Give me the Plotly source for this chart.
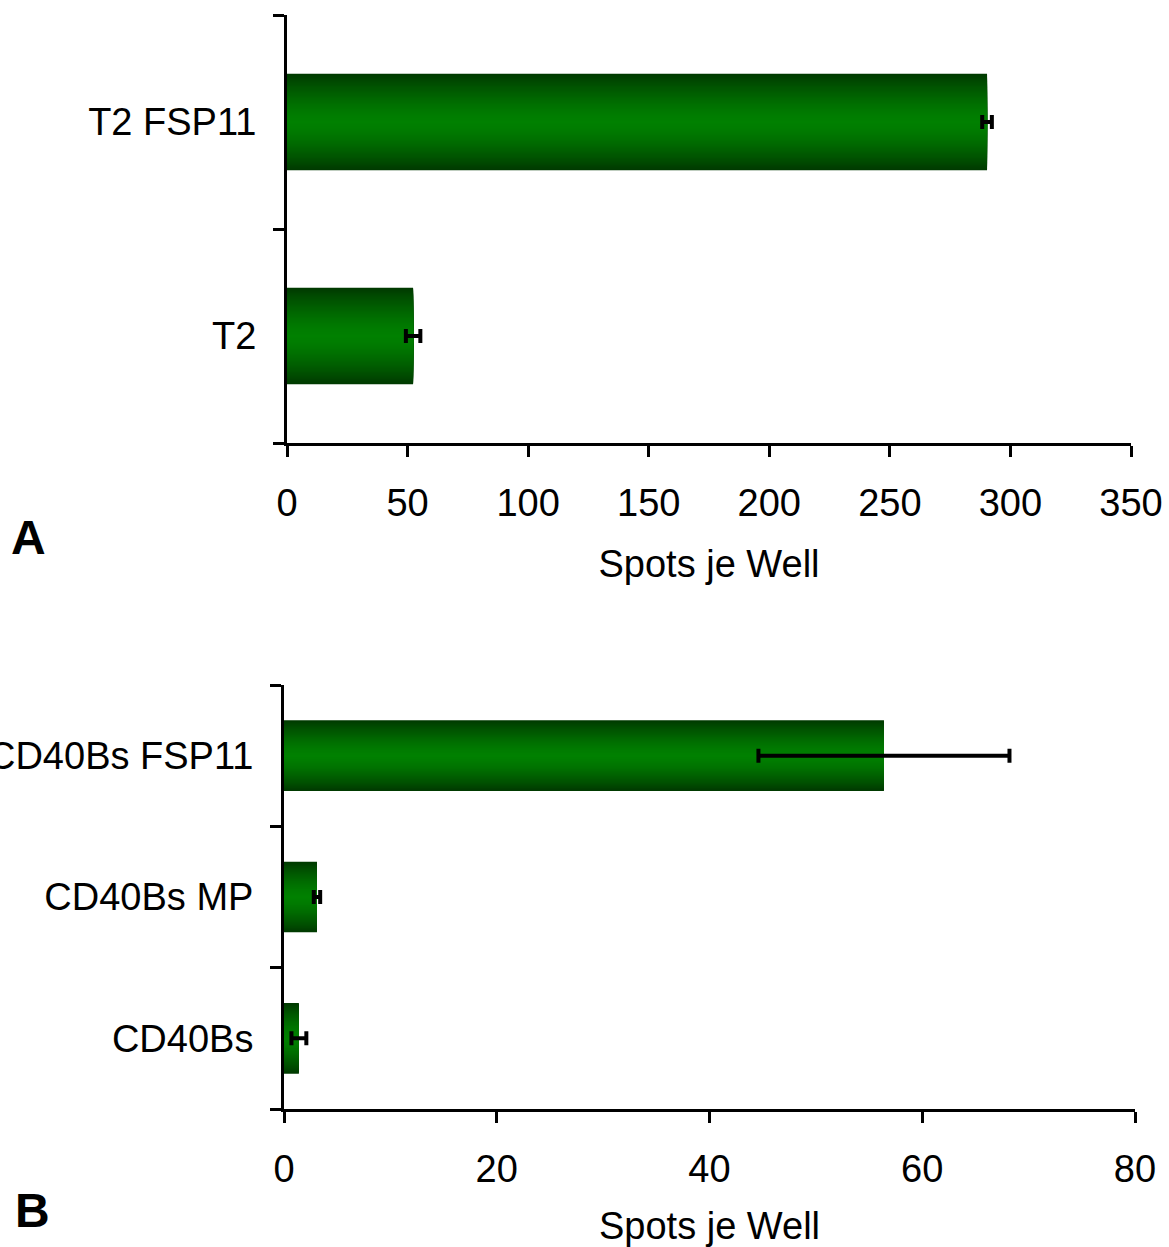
import plotly.graph_objects as go

# ---- data ----
cats_a = ["T2", "T2 FSP11"]
vals_a = [52.3, 290.3]
err_a = [3.0, 2.0]

cats_b = ["CD40Bs", "CD40Bs MP", "CD40Bs FSP11"]
vals_b = [1.4, 3.1, 56.4]
err_b = [0.7, 0.3, 11.8]

xticks_a = [0, 50, 100, 150, 200, 250, 300, 350]
xticks_b = [0, 20, 40, 60, 80]

FONT = "Arial, Liberation Sans, sans-serif"
W, H = 1169, 1247
FS = 38

fig = go.Figure()

N = 40


def shade(d):
    g = 128 - 70 * (d ** 1.5)
    return f"rgb(0,{int(round(g))},0)"


def add_bars(cats, vals, width, xa, ya):
    for k in range(N):
        frac = 1 - k / N
        fig.add_trace(go.Bar(
            y=cats, x=vals, orientation="h",
            width=width * frac,
            marker=dict(color=shade(frac), line=dict(width=0)),
            xaxis=xa, yaxis=ya, showlegend=False, hoverinfo="skip",
        ))


def add_err(cats, vals, errs, xa, ya):
    fig.add_trace(go.Scatter(
        y=cats, x=vals, mode="markers",
        marker=dict(size=1, color="rgba(0,0,0,0)"),
        error_x=dict(type="data", array=errs, color="black", thickness=4, width=7),
        xaxis=xa, yaxis=ya, showlegend=False, hoverinfo="skip",
    ))


add_bars(cats_a, vals_a, 0.45, "x", "y")
add_err(cats_a, vals_a, err_a, "x", "y")
add_bars(cats_b, vals_b, 0.5, "x2", "y2")
add_err(cats_b, vals_b, err_b, "x2", "y2")

axis_common = dict(
    showline=True, linecolor="black", linewidth=3,
    ticks="outside", ticklen=11, tickwidth=3, tickcolor="black",
    showgrid=False, zeroline=False,
    tickfont=dict(family=FONT, size=FS, color="black"),
    automargin=False,
)

title_font = dict(family=FONT, size=FS, color="black")

fig.update_layout(
    width=W, height=H,
    margin=dict(l=0, r=0, t=0, b=0),
    plot_bgcolor="white", paper_bgcolor="white",
    barmode="overlay",
    font=dict(family=FONT, color="black"),
    xaxis=dict(
        **axis_common, domain=[287 / W, 1131 / W], anchor="y",
        range=[0, 350], tickvals=xticks_a, ticklabelstandoff=13,
        title=dict(text="Spots je Well", font=title_font, standoff=28),
    ),
    yaxis=dict(
        **axis_common, domain=[1 - 443 / H, 1 - 15 / H], anchor="x",
        type="category", categoryorder="array", categoryarray=cats_a,
        range=[-0.5, 1.5], tickson="boundaries", ticklabelstandoff=20,
    ),
    xaxis2=dict(
        **axis_common, domain=[284 / W, 1135 / W], anchor="y2",
        range=[0, 80], tickvals=xticks_b, ticklabelstandoff=13,
        title=dict(text="Spots je Well", font=title_font, standoff=28),
    ),
    yaxis2=dict(
        **axis_common, domain=[1 - 1109 / H, 1 - 685 / H], anchor="x2",
        type="category", categoryorder="array", categoryarray=cats_b,
        range=[-0.5, 2.5], tickson="boundaries", ticklabelstandoff=20,
    ),
    annotations=[
        dict(text="<b>A</b>", x=9 / W, y=1 - 537 / H, xref="paper", yref="paper",
             xanchor="left", yanchor="middle", showarrow=False,
             font=dict(family=FONT, size=48, color="black")),
        dict(text="<b>B</b>", x=13 / W, y=1 - 1210 / H, xref="paper", yref="paper",
             xanchor="left", yanchor="middle", showarrow=False,
             font=dict(family=FONT, size=48, color="black")),
    ],
)

fig.write_html("out.html")
